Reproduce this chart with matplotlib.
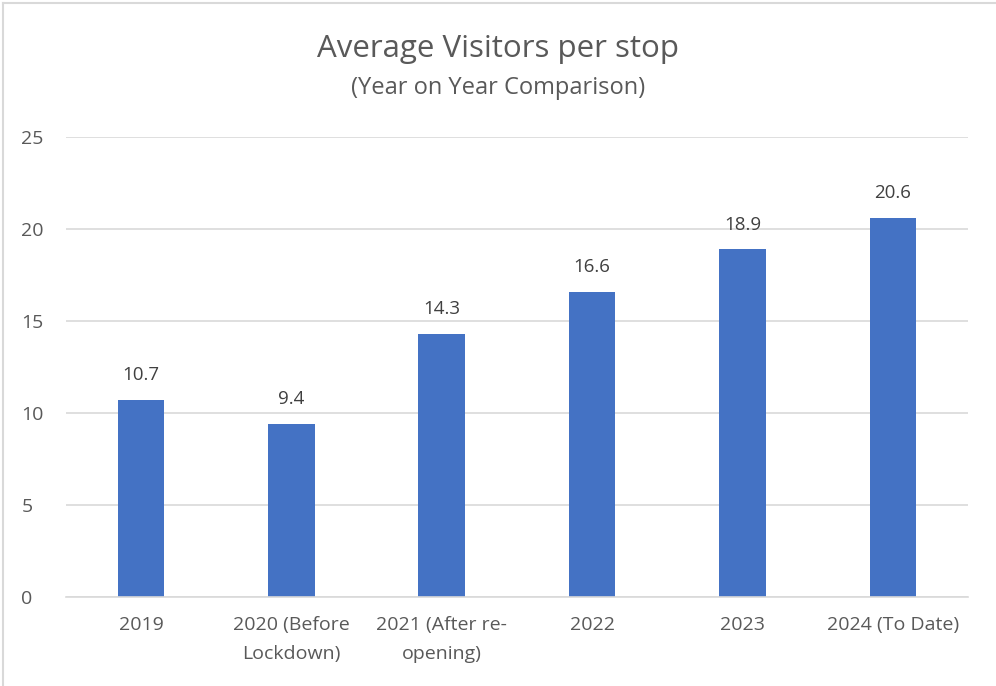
import matplotlib.pyplot as plt
from matplotlib.lines import Line2D

categories = ["2019", "2020 (Before\nLockdown)", "2021 (After re-\nopening)",
              "2022", "2023", "2024 (To Date)"]
visitors = [10.7, 9.4, 14.3, 16.6, 18.9, 20.6]
y_ticks = [0, 5, 10, 15, 20, 25]

plt.rcParams['font.family'] = ['Open Sans', 'DejaVu Sans']
text_color = "#595959"
grid_color = "#d9d9d9"

fig = plt.figure(figsize=(9.96, 6.86), dpi=100)
ax = fig.add_axes([0.066, 0.1297, 0.906, 0.6706])

x = list(range(len(categories)))
ax.bar(x, visitors, width=0.31, color="#4472C4", zorder=3)
for xi, v in zip(x, visitors):
    ax.text(xi, v + 0.85, f"{v:.1f}", ha="center", va="bottom",
            fontsize=13.5, color="#404040")

ax.set_xlim(-0.5, len(categories) - 0.5)
ax.set_ylim(0, 25)
ax.set_yticks(y_ticks)
ax.set_xticks(x)
ax.set_xticklabels(categories, fontsize=14, color=text_color, linespacing=1.75)
ax.tick_params(axis="y", labelsize=14, labelcolor=text_color, length=0, pad=32)
ax.tick_params(axis="x", length=0, pad=14)
ax.grid(axis="y", color=grid_color, linewidth=1.2, zorder=0)
for s in ["top", "right", "left"]:
    ax.spines[s].set_visible(False)
ax.spines["bottom"].set_color(grid_color)
ax.spines["bottom"].set_linewidth(1.2)
ax.spines["bottom"].set_zorder(4)
for lbl in ax.get_yticklabels():
    lbl.set_horizontalalignment("left")

fig.text(0.5, 0.928, "Average Visitors per stop", ha="center", va="center",
         fontsize=22.5, color=text_color)
fig.text(0.5, 0.871, "(Year on Year Comparison)", ha="center", va="center",
         fontsize=17, color=text_color)

# light frame round the chart
fig.add_artist(Line2D([0.003, 0.003], [0.0, 0.996], color=grid_color, lw=1.5,
                      transform=fig.transFigure))
fig.add_artist(Line2D([0.003, 0.999], [0.996, 0.996], color=grid_color, lw=1.5,
                      transform=fig.transFigure))

fig.savefig("out.png", dpi=100)
